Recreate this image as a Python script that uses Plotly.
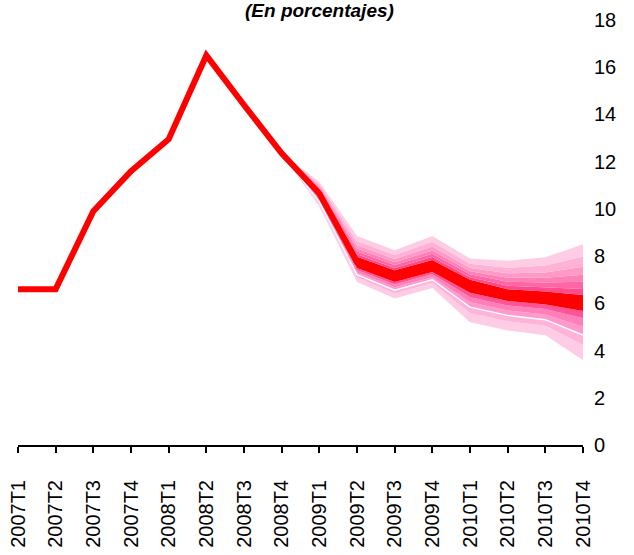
import plotly.graph_objects as go

# Quarters shown on the x axis
quarters = ["2007T1", "2007T2", "2007T3", "2007T4", "2008T1", "2008T2", "2008T3", "2008T4",
            "2009T1", "2009T2", "2009T3", "2009T4", "2010T1", "2010T2", "2010T3", "2010T4"]

# Observed rate (%) through 2008T4 and central projection afterwards
central = [6.6, 6.6, 9.9, 11.6, 12.95, 16.5, 14.4, 12.35,
           10.65, 7.75, 7.15, 7.6, 6.75, 6.35, 6.2, 6.0]

# Fan-chart band limits (%) from 2008T4 to 2010T4, listed from the bottom edge up
fan_quarters = quarters[7:]
lower_outer = [12.35, 10.1, 6.9, 6.2, 6.65, 5.2, 4.85, 4.65, 3.6]
lower_4 = [12.35, 10.22, 7.09, 6.42, 6.86, 5.59, 5.24, 5.05, 4.24]
lower_3 = [12.35, 10.3, 7.21, 6.56, 7.0, 5.84, 5.49, 5.31, 4.66]
lower_2 = [12.35, 10.37, 7.31, 6.68, 7.11, 6.05, 5.7, 5.53, 5.01]
lower_1 = [12.35, 10.44, 7.41, 6.8, 7.23, 6.26, 5.91, 5.76, 5.37]
core_low = [12.35, 10.5, 7.5, 6.9, 7.33, 6.45, 6.1, 5.95, 5.68]
core_high = [12.35, 10.8, 7.97, 7.4, 7.84, 7.0, 6.6, 6.5, 6.35]
upper_1 = [12.35, 10.84, 8.08, 7.5, 7.96, 7.11, 6.74, 6.67, 6.61]
upper_2 = [12.35, 10.89, 8.2, 7.62, 8.1, 7.23, 6.91, 6.88, 6.91]
upper_3 = [12.35, 10.94, 8.32, 7.74, 8.24, 7.36, 7.08, 7.08, 7.21]
upper_4 = [12.35, 11.0, 8.46, 7.88, 8.41, 7.5, 7.27, 7.31, 7.55]
upper_5 = [12.35, 11.07, 8.64, 8.05, 8.61, 7.68, 7.51, 7.6, 7.98]
upper_outer = [12.35, 11.15, 8.85, 8.25, 8.85, 7.9, 7.8, 7.95, 8.5]

y_ticks = list(range(0, 19, 2))

FONT = "Liberation Sans, Arial, sans-serif"

boundaries = [lower_outer, lower_4, lower_3, lower_2, lower_1, core_low, core_high,
              upper_1, upper_2, upper_3, upper_4, upper_5, upper_outer]
band_colors = ["#FFCCE6", "#FFB3D9", "#FF99CC", "#FF7FBA", "#FF5596", "#FF0000",
               "#FF4A8C", "#FF66A6", "#FF80B6", "#FF99C6", "#FFB2D6", "#FFCCE6"]

fig = go.Figure()

# Stacked fan bands: each boundary fills down to the previous one
for i, ys in enumerate(boundaries):
    fig.add_trace(go.Scatter(
        x=fan_quarters, y=ys, mode="lines",
        line=dict(width=0, color="rgba(0,0,0,0)"),
        fill=None if i == 0 else "tonexty",
        fillcolor=None if i == 0 else band_colors[i - 1],
        hoverinfo="skip", showlegend=False,
    ))

# Thin white seam inside the lower half of the fan
fig.add_trace(go.Scatter(
    x=fan_quarters, y=lower_3, mode="lines",
    line=dict(width=1.5, color="white"),
    hoverinfo="skip", showlegend=False,
))

# Main line
fig.add_trace(go.Scatter(
    x=quarters, y=central, mode="lines",
    line=dict(width=6, color="#FF0000"),
    showlegend=False,
))

fig.add_annotation(
    text="<b><i>(En porcentajes)</i></b>",
    xref="paper", yref="paper", x=0.5345, y=1.0, yshift=-3,
    xanchor="center", yanchor="bottom", showarrow=False,
    font=dict(family=FONT, size=19, color="black"),
)

fig.update_layout(
    width=634, height=555,
    margin=dict(l=18, r=51, t=20, b=110, autoexpand=False),
    paper_bgcolor="white", plot_bgcolor="white",
    font=dict(family=FONT, size=20, color="black"),
    showlegend=False,
)

fig.update_xaxes(
    type="category", categoryorder="array", categoryarray=quarters,
    range=[0, len(quarters) - 1], automargin=False,
    showline=True, linecolor="black", linewidth=2,
    ticks="outside", ticklen=6, tickwidth=2, tickcolor="black",
    tickangle=-90, ticklabelstandoff=19,
    tickfont=dict(family=FONT, size=20),
    showgrid=False, zeroline=False,
)

fig.update_yaxes(
    side="right", range=[0, 18], tickvals=y_ticks, automargin=False,
    showline=False, showgrid=False, zeroline=False,
    ticks="", ticklabelstandoff=10,
    tickfont=dict(family=FONT, size=20),
)

fig.write_html("out.html")
